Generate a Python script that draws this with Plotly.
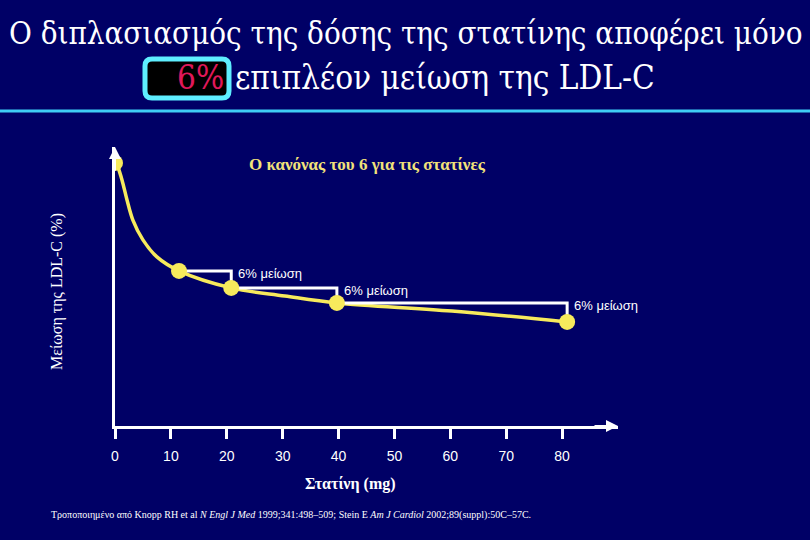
import plotly.graph_objects as go

# ---- data ----
dose_curve = [0.3, 1.25, 2.15, 3.2, 5.0, 7.5, 11.45, 20.8, 30.4, 39.7, 60.3, 80.9]
reduction_curve = [94.3, 88.2, 81.0, 73.8, 66.7, 60.6, 55.6, 49.5, 46.6, 44.1, 41.2, 37.3]
dose_points = [0, 11.45, 20.8, 39.7, 80.9]
reduction_points = [94.3, 55.6, 49.5, 44.1, 37.3]
tick_vals = [0, 10, 20, 30, 40, 50, 60, 70, 80]
step_label = "6% μείωση"

W, H = 810, 540
ML, MT, PW, PH = 115, 147, 503, 279
MR = W - ML - PW
MB = H - MT - PH

BG = "#000066"
YEL = "#f7ea5c"
SERIF = "Liberation Serif"
TITLE_FONT = "DejaVu Serif Condensed, DejaVu Serif, serif"


def pp(px, py):
    return (px - ML) / PW, (MT + PH - py) / PH


fig = go.Figure()
fig.add_trace(go.Scatter(x=dose_curve, y=reduction_curve, mode="lines",
                         line=dict(color=YEL, width=3.5, shape="spline"),
                         hoverinfo="skip", showlegend=False))
fig.add_trace(go.Scatter(x=dose_points[1:], y=reduction_points[1:], mode="lines",
                         line=dict(color="white", width=3, shape="hv"),
                         hoverinfo="skip", showlegend=False))
fig.add_trace(go.Scatter(x=dose_points, y=reduction_points, mode="markers",
                         marker=dict(color=YEL, size=16),
                         showlegend=False))

anns = []
# step labels
for i in range(1, len(dose_points) - 1):
    anns.append(dict(x=dose_points[i + 1], y=reduction_points[i], xref="x", yref="y",
                     text=step_label, showarrow=False, xanchor="left", yanchor="middle",
                     xshift=5, yshift=-3,
                     font=dict(family="Liberation Sans", size=13, color="white")))

# axis arrows
anns.append(dict(x=0, y=100, xref="x", yref="y", ax=0, ay=25, axref="pixel", ayref="pixel",
                 text="", showarrow=True, arrowhead=2, arrowsize=1.2, arrowwidth=2,
                 arrowcolor="white"))
anns.append(dict(x=90, y=0, xref="x", yref="y", ax=-25, ay=0,
                 text="", showarrow=True, arrowhead=2, arrowsize=1.2, arrowwidth=2,
                 arrowcolor="white"))

# title line 1
x, y = pp(406, 33)
anns.append(dict(x=x, y=y, xref="paper", yref="paper", xanchor="center", yanchor="middle",
                 text="Ο διπλασιασμός της δόσης της στατίνης αποφέρει μόνο", showarrow=False,
                 font=dict(family=TITLE_FONT, size=31, color="white")))
# title line 2
x, y = pp(233, 77)
anns.append(dict(x=x, y=y, xref="paper", yref="paper", xanchor="left", yanchor="middle",
                 text="επιπλέον μείωση της LDL-C", showarrow=False,
                 font=dict(family=TITLE_FONT, size=33, color="white")))
x, y = pp(226, 77)
anns.append(dict(x=x, y=y, xref="paper", yref="paper", xanchor="right", yanchor="middle",
                 text="6%", showarrow=False,
                 font=dict(family=TITLE_FONT, size=33, color="#e0185a")))

# chart subtitle
x, y = pp(367, 164)
anns.append(dict(x=x, y=y, xref="paper", yref="paper", xanchor="center", yanchor="middle",
                 text="<b>Ο κανόνας του 6 για τις στατίνες</b>", showarrow=False,
                 font=dict(family=SERIF, size=17, color="#f2e27a")))
# y title
x, y = pp(57, 292)
anns.append(dict(x=x, y=y, xref="paper", yref="paper", xanchor="center", yanchor="middle",
                 text="Μείωση της LDL-C (%)", textangle=-90, showarrow=False,
                 font=dict(family=SERIF, size=16, color="white")))
# x title
x, y = pp(350, 484)
anns.append(dict(x=x, y=y, xref="paper", yref="paper", xanchor="center", yanchor="middle",
                 text="<b>Στατίνη (mg)</b>", showarrow=False,
                 font=dict(family=SERIF, size=16, color="white")))
# footnote
x, y = pp(49, 515)
anns.append(dict(x=x, y=y, xref="paper", yref="paper", xanchor="left", yanchor="middle",
                 text="Τροποποιημένο από Knopp RH et al <i>N Engl J Med</i> 1999;341:498–509; "
                      "Stein E <i>Am J Cardiol</i> 2002;89(suppl):50C–57C.",
                 showarrow=False,
                 font=dict(family=SERIF, size=10, color="white")))

shapes = []
# cyan separator line
y0 = pp(0, 111)[1]
shapes.append(dict(type="line", xref="paper", yref="paper", x0=pp(0, 0)[0], x1=pp(W, 0)[0],
                   y0=y0, y1=y0, line=dict(color="#3fcdf5", width=3)))
# rounded box around "6%"
bx0, by0, bx1, by1, r = 145, 59, 229, 98, 7


def P(px, py):
    a, b = pp(px, py)
    return f"{a:.5f},{b:.5f}"


path = (f"M {P(bx0 + r, by0)} L {P(bx1 - r, by0)} Q {P(bx1, by0)} {P(bx1, by0 + r)} "
        f"L {P(bx1, by1 - r)} Q {P(bx1, by1)} {P(bx1 - r, by1)} "
        f"L {P(bx0 + r, by1)} Q {P(bx0, by1)} {P(bx0, by1 - r)} "
        f"L {P(bx0, by0 + r)} Q {P(bx0, by0)} {P(bx0 + r, by0)} Z")
shapes.append(dict(type="path", xref="paper", yref="paper", path=path,
                   fillcolor="black", line=dict(color="#5eeeff", width=5), layer="below"))

fig.update_layout(
    width=W, height=H,
    margin=dict(l=ML, r=MR, t=MT, b=MB),
    paper_bgcolor=BG, plot_bgcolor=BG,
    annotations=anns, shapes=shapes,
    xaxis=dict(range=[0, 90], tickvals=tick_vals, ticks="outside", ticklen=10,
               tickwidth=3, tickcolor="white", showline=True, linecolor="white",
               linewidth=3, showgrid=False, zeroline=False, ticklabelstandoff=5,
               tickfont=dict(family="Liberation Sans Narrow, Liberation Sans", size=14,
                             color="white")),
    yaxis=dict(range=[0, 100], showticklabels=False, ticks="", showline=True,
               linecolor="white", linewidth=3, showgrid=False, zeroline=False),
)

fig.write_html("out.html", config={"displayModeBar": False},
               post_script="document.body.style.margin='0';document.body.style.background='#000066';")
